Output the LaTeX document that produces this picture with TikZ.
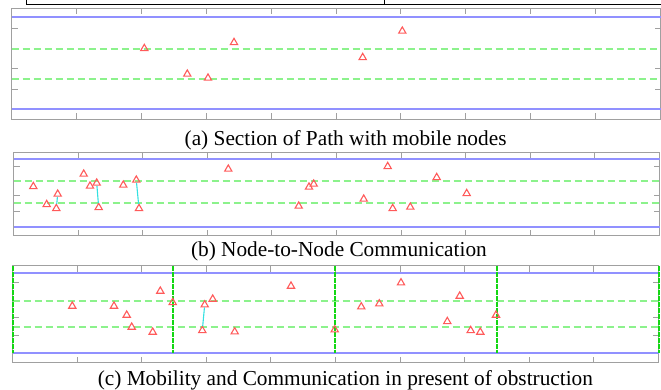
\documentclass[tikz,border=0pt]{standalone}
\usepackage{fontspec}
\setmainfont{Liberation Serif}
\usetikzlibrary{shapes.geometric}

\definecolor{framegray}{RGB}{160,160,160}
\definecolor{laneblue}{RGB}{145,145,255}
\definecolor{lanegreen}{RGB}{140,242,140}
\definecolor{wallgreen}{RGB}{20,215,20}
\definecolor{nodered}{RGB}{255,90,90}
\definecolor{linkcyan}{RGB}{50,225,225}

\tikzstyle{mobile} = [
    regular polygon,
    regular polygon sides=3,
    minimum size=8.4pt,
    inner sep=0pt,
    draw=nodered,
    line width=1.1pt
]
\tikzstyle{commlink} = [draw=linkcyan, line width=1.1pt]
\tikzstyle{pathframe} = [draw=framegray, line width=1pt]
\tikzstyle{laneborder} = [draw=laneblue, line width=1.4pt]
\tikzstyle{lanemid} = [draw=lanegreen, line width=1.4pt, dash pattern=on 7pt off 4pt]
\tikzstyle{obstacle} = [draw=wallgreen, line width=1.2pt, dash pattern=on 5pt off 1pt]
\tikzstyle{subcaption} = [
    anchor=base,
    inner sep=0pt,
    font=\fontsize{21.3}{24}\selectfont
]

\begin{document}
\begin{tikzpicture}[x=1pt, y=-1pt]

\useasboundingbox (0,0) rectangle (661,390);

% remains of the table above
\draw [black, line width=1pt] (26.5,0) -- (26.5,4.5) -- (662,4.5);
\draw [black, line width=1pt] (384.5,0) -- (384.5,4.5);

% (a) path section
\draw [pathframe] (11.5,8.5) rectangle (660.5,119.5);
\foreach \k in {1,...,9} {
    \draw [pathframe] ({11.5+64.9*\k},8.5) -- ++(0,6);
    \draw [pathframe] ({11.5+64.9*\k},119.5) -- ++(0,-6);
}
\foreach \y in {28.5,68.5,89.5} {
    \draw [pathframe] (11.5,\y) -- ++(6,0);
    \draw [pathframe] (660.5,\y) -- ++(-6,0);
}
\draw [laneborder] (11.5,17) -- (660.5,17);
\draw [laneborder] (11.5,109) -- (660.5,109);
\draw [lanemid] (11.5,49) -- (660.5,49);
\draw [lanemid] (11.5,79) -- (660.5,79);

\node (a1) [mobile] at (144.3,48.5) {};
\node (a2) [mobile] at (187.3,74.1) {};
\node (a3) [mobile] at (208,78.1) {};
\node (a4) [mobile] at (234,42.5) {};
\node (a5) [mobile] at (362.7,57.5) {};
\node (a6) [mobile] at (402.3,31.1) {};

\node (capa) [subcaption] at (345.6,146) {(a) Section of Path with mobile nodes};

% (b) node-to-node communication
\draw [pathframe] (13.5,152.5) rectangle (659.5,235.5);
\foreach \k in {1,...,9} {
    \draw [pathframe] ({13.5+64.6*\k},152.5) -- ++(0,6);
    \draw [pathframe] ({13.5+64.6*\k},235.5) -- ++(0,-6);
}
\foreach \y in {166.5,195.5,211.5} {
    \draw [pathframe] (13.5,\y) -- ++(6,0);
    \draw [pathframe] (659.5,\y) -- ++(-6,0);
}
\draw [laneborder] (13.5,159) -- (659.5,159);
\draw [laneborder] (13.5,227) -- (659.5,227);
\draw [lanemid] (13.5,181) -- (659.5,181);
\draw [lanemid] (13.5,203) -- (659.5,203);

\node (b1) [mobile] at (33.3,186.5) {};
\node (b2) [mobile] at (46.7,204.5) {};
\node (b3) [mobile] at (57.7,194.1) {};
\node (b4) [mobile] at (56.3,208.5) {};
\node (b5) [mobile] at (83.7,174.1) {};
\node (b6) [mobile] at (90,186.1) {};
\node (b7) [mobile] at (96.7,183.1) {};
\node (b8) [mobile] at (98.7,207.5) {};
\node (b9) [mobile] at (123.3,185.1) {};
\node (b10) [mobile] at (136.3,180.1) {};
\node (b11) [mobile] at (139,208.5) {};
\node (b12) [mobile] at (228.3,169.1) {};
\node (b13) [mobile] at (298.7,206.1) {};
\node (b14) [mobile] at (309,187.1) {};
\node (b15) [mobile] at (313.7,184.1) {};
\node (b16) [mobile] at (363.7,199.1) {};
\node (b17) [mobile] at (387.7,166.5) {};
\node (b18) [mobile] at (392.7,208.5) {};
\node (b19) [mobile] at (410.3,207.1) {};
\node (b20) [mobile] at (436.7,177.5) {};
\node (b21) [mobile] at (466.7,193.5) {};

\draw [commlink] (b3) -- (b4);
\draw [commlink] (b7) -- (b8);
\draw [commlink] (b10) -- (b11);

\node (capb) [subcaption] at (338.9,256) {(b) Node-to-Node Communication};

% (c) mobility with obstruction
\draw [pathframe] (12.5,265.5) rectangle (658.5,362.5);
\foreach \k in {1,...,9} {
    \draw [pathframe] ({12.5+64.6*\k},265.5) -- ++(0,6);
    \draw [pathframe] ({12.5+64.6*\k},362.5) -- ++(0,-6);
}
\foreach \y in {282.5,317.5,335.5} {
    \draw [pathframe] (12.5,\y) -- ++(6,0);
    \draw [pathframe] (658.5,\y) -- ++(-6,0);
}
\draw [laneborder] (12.5,273) -- (658.5,273);
\draw [laneborder] (12.5,353) -- (658.5,353);
\draw [lanemid] (12.5,301) -- (658.5,301);
\draw [lanemid] (12.5,327) -- (658.5,327);
\foreach \x in {13,173,335,497,659}
    \draw [obstacle] (\x,265.5) -- (\x,353);

\node (c1) [mobile] at (72.3,306.1) {};
\node (c2) [mobile] at (114,306.1) {};
\node (c3) [mobile] at (126.7,315.1) {};
\node (c4) [mobile] at (131.7,327.1) {};
\node (c5) [mobile] at (152.7,332.1) {};
\node (c6) [mobile] at (160.3,291.1) {};
\node (c7) [mobile] at (172.7,302.5) {};
\node (c8) [mobile] at (204.7,304.8) {};
\node (c9) [mobile] at (212.7,299.1) {};
\node (c10) [mobile] at (202.3,330.5) {};
\node (c11) [mobile] at (234.7,331.8) {};
\node (c12) [mobile] at (291,286.1) {};
\node (c13) [mobile] at (334.7,329.8) {};
\node (c14) [mobile] at (361.3,306.8) {};
\node (c15) [mobile] at (379.3,303.8) {};
\node (c16) [mobile] at (401,282.8) {};
\node (c17) [mobile] at (447.3,321.5) {};
\node (c18) [mobile] at (459.7,296.1) {};
\node (c19) [mobile] at (470.7,330.5) {};
\node (c20) [mobile] at (480.3,332.1) {};
\node (c21) [mobile] at (496,315.1) {};

\draw [commlink] (c8) -- (c10);

\node (capc) [subcaption] at (345.4,385) {(c) Mobility and Communication in present of obstruction};

\end{tikzpicture}
\end{document}
